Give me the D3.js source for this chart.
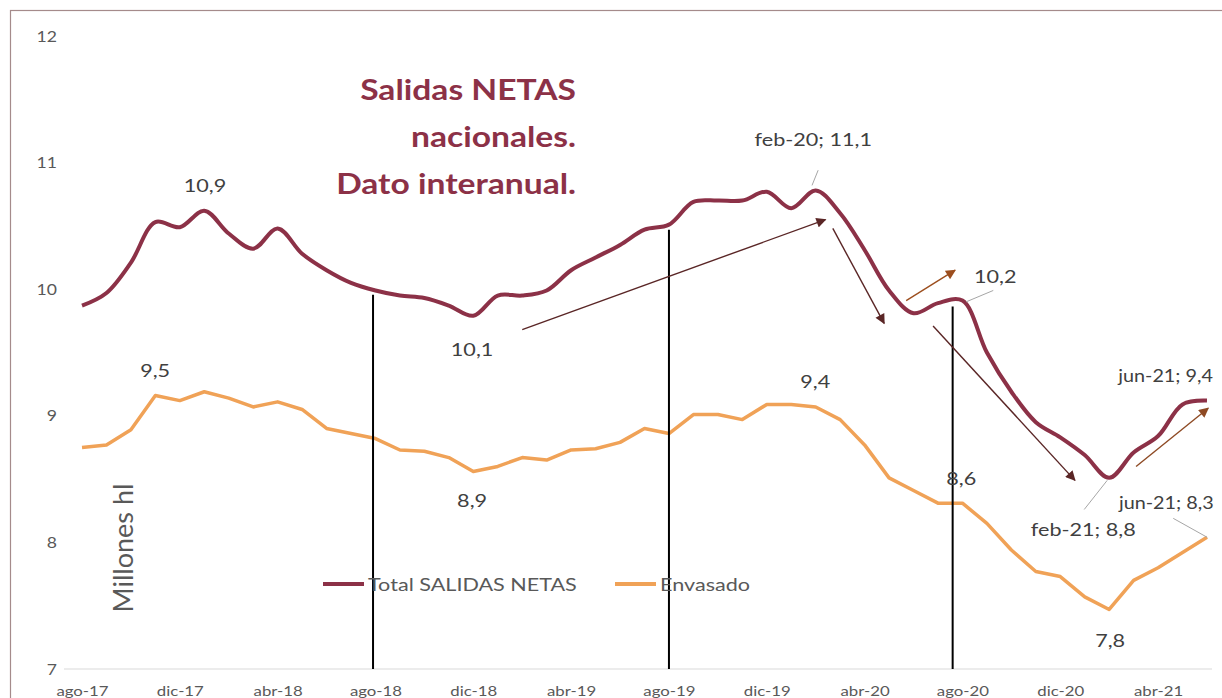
<!DOCTYPE html>
<html>
<head>
<meta charset="utf-8">
<script src="https://cdn.jsdelivr.net/npm/d3@7"></script>
<style>
  body { margin: 0; background: #fff; }
  text { font-family: Lato, "Open Sans", sans-serif; }
</style>
</head>
<body>
<div id="container"></div>
<script>
// months, ago-17 .. jun-21
const months = [
  "ago-17","sep-17","oct-17","nov-17","dic-17",
  "ene-18","feb-18","mar-18","abr-18","may-18","jun-18","jul-18","ago-18","sep-18","oct-18","nov-18","dic-18",
  "ene-19","feb-19","mar-19","abr-19","may-19","jun-19","jul-19","ago-19","sep-19","oct-19","nov-19","dic-19",
  "ene-20","feb-20","mar-20","abr-20","may-20","jun-20","jul-20","ago-20","sep-20","oct-20","nov-20","dic-20",
  "ene-21","feb-21","mar-21","abr-21","may-21","jun-21"
];

// Total SALIDAS NETAS (millones hl)
const total = [
  9.87, 9.97, 10.21, 10.53, 10.49,
  10.62, 10.44, 10.32, 10.48, 10.28, 10.15, 10.05, 9.99, 9.95, 9.93, 9.87, 9.79,
  9.95, 9.95, 9.99, 10.15, 10.25, 10.35, 10.47, 10.51, 10.69, 10.70, 10.70, 10.77,
  10.64, 10.78, 10.60, 10.31, 9.99, 9.81, 9.89, 9.91, 9.50, 9.19, 8.95, 8.83,
  8.69, 8.51, 8.71, 8.84, 9.09, 9.12
];

// Envasado
const envasado = [
  8.75, 8.77, 8.89, 9.16, 9.12,
  9.19, 9.14, 9.07, 9.11, 9.05, 8.90, 8.86, 8.82, 8.73, 8.72, 8.67, 8.56,
  8.60, 8.67, 8.65, 8.73, 8.74, 8.79, 8.90, 8.86, 9.01, 9.01, 8.97, 9.09,
  9.09, 9.07, 8.97, 8.77, 8.51, 8.41, 8.31, 8.31, 8.15, 7.94, 7.77, 7.73,
  7.57, 7.47, 7.70, 7.80, 7.92, 8.04
];

const yTicks = [7, 8, 9, 10, 11, 12];
const xTickLabels = ["ago-17","dic-17","abr-18","ago-18","dic-18","abr-19","ago-19","dic-19","abr-20","ago-20","dic-20","abr-21"];

// vertical drop lines (month index)
const dropAt = [11.9, 24, 35.6];

// data labels: [month index, value, text, anchor]
const labels = [
  [5.03, 10.77, "10,9", "middle"],
  [2.99, 9.31, "9,5", "middle"],
  [15.95, 9.47, "10,1", "middle"],
  [15.95, 8.28, "8,9", "middle"],
  [29.9, 11.13, "feb-20; 11,1", "middle"],
  [29.98, 9.22, "9,4", "middle"],
  [37.34, 10.05, "10,2", "middle"],
  [35.95, 8.45, "8,6", "middle"],
  [42.37, 9.27, "jun-21; 9,4", "start"],
  [40.94, 8.05, "feb-21; 8,8", "middle"],
  [42.4, 8.26, "jun-21; 8,3", "start"],
  [42.04, 7.17, "7,8", "middle"]
];

// leader lines: [i1, v1, i2, v2]
const leaders = [
  [30.1, 10.94, 29.85, 10.82],
  [36.15, 9.90, 37.26, 9.99],
  [41.92, 8.49, 40.98, 8.26],
  [44.62, 8.19, 46.01, 8.04]
];

// trend arrows: [i1, v1, i2, v2, colour]
const arrows = [
  [18.0, 9.68, 30.4, 10.55, "#5a2626"],
  [30.7, 10.48, 32.8, 9.73, "#5a2626"],
  [33.7, 9.91, 35.7, 10.15, "#9c4e1e"],
  [34.8, 9.71, 40.6, 8.49, "#5a2626"],
  [43.1, 8.60, 46.05, 9.06, "#8e4a24"]
];

const w = 1222;
const h = 698;
const maroon = "#8c3147";
const orange = "#f0a257";
const stretch = 1.2; // the original text looks horizontally widened

let viz = d3.select("#container")
  .append("svg")
    .attr("width", w)
    .attr("height", h);

// chart frame
viz.append("rect")
  .attr("x", 10.5).attr("y", 10.5)
  .attr("width", 1260).attr("height", 760)
  .attr("fill", "#fff")
  .attr("stroke", "#a58b8b")
  .attr("stroke-width", 1.2);

let xScale = d3.scalePoint().domain(months).range([82, 1207]);
let yScale = d3.scaleLinear().domain([7, 12]).range([669, 36]);

function xi(i){
  return xScale(months[0]) + i * xScale.step();
}

function wideText(sel, x, y, sx){
  return sel.append("text")
    .attr("transform", "translate(" + x + "," + y + ") scale(" + (sx || stretch) + ",1)");
}

// markers for arrows
let defs = viz.append("defs");
arrows.forEach(function(a, k){
  defs.append("marker")
    .attr("id", "ah" + k)
    .attr("viewBox", "0 0 10 10")
    .attr("refX", 9).attr("refY", 5)
    .attr("markerWidth", 11).attr("markerHeight", 10)
    .attr("markerUnits", "userSpaceOnUse")
    .attr("orient", "auto")
    .append("path")
      .attr("d", "M0,0 L10,5 L0,10 z")
      .attr("fill", a[4]);
});

// bottom axis line
viz.append("line")
  .attr("x1", 64).attr("x2", 1212)
  .attr("y1", yScale(7)).attr("y2", yScale(7))
  .attr("stroke", "#d9d9d9").attr("stroke-width", 1);

// y axis
let yAxis = viz.append("g")
  .attr("transform", "translate(57,0)")
  .call(d3.axisLeft(yScale).tickValues(yTicks).tickSize(0).tickPadding(0).tickFormat(d3.format("d")));
yAxis.select(".domain").remove();
yAxis.selectAll("text")
  .attr("fill", "#595959")
  .attr("transform", "scale(1.1,1)")
  .style("font-size", "16px")
  .style("font-family", "Lato, sans-serif");

// x axis
let xAxis = viz.append("g")
  .attr("transform", "translate(0," + yScale(7) + ")")
  .call(d3.axisBottom(xScale).tickValues(xTickLabels).tickSize(0).tickPadding(17));
xAxis.select(".domain").remove();
xAxis.selectAll("text")
  .attr("fill", "#595959")
  .attr("transform", "scale(" + stretch + ",1)")
  .style("font-size", "14px")
  .style("font-family", "Lato, sans-serif");

// axis title
viz.append("text")
  .attr("transform", "translate(133,548) rotate(-90)")
  .attr("text-anchor", "middle")
  .attr("fill", "#595959")
  .style("font-size", "27px")
  .text("Millones hl");

// lines
let lineTotal = d3.line()
  .x(function(d, i){ return xScale(months[i]); })
  .y(function(d){ return yScale(d); })
  .curve(d3.curveCatmullRom.alpha(0.5));

let lineEnv = d3.line()
  .x(function(d, i){ return xScale(months[i]); })
  .y(function(d){ return yScale(d); });

viz.append("path")
  .datum(envasado)
  .attr("d", lineEnv)
  .attr("fill", "none")
  .attr("stroke", orange)
  .attr("stroke-width", 3.5)
  .attr("stroke-linejoin", "round");

viz.append("path")
  .datum(total)
  .attr("d", lineTotal)
  .attr("fill", "none")
  .attr("stroke", maroon)
  .attr("stroke-width", 4)
  .attr("stroke-linejoin", "round");

// drop lines from total series down to axis
function totalAt(i){
  let a = Math.floor(i), b = Math.min(a + 1, total.length - 1);
  return total[a] + (total[b] - total[a]) * (i - a);
}
viz.selectAll(".drop").data(dropAt).enter()
  .append("line")
    .attr("x1", xi).attr("x2", xi)
    .attr("y1", function(d){ return yScale(totalAt(d)) + 5; })
    .attr("y2", yScale(7))
    .attr("stroke", "#000")
    .attr("stroke-width", 2);

// arrows
viz.selectAll(".arrow").data(arrows).enter()
  .append("line")
    .attr("x1", function(d){ return xi(d[0]); })
    .attr("y1", function(d){ return yScale(d[1]); })
    .attr("x2", function(d){ return xi(d[2]); })
    .attr("y2", function(d){ return yScale(d[3]); })
    .attr("stroke", function(d){ return d[4]; })
    .attr("stroke-width", 1.4)
    .attr("marker-end", function(d, k){ return "url(#ah" + k + ")"; });

// leader lines
viz.selectAll(".leader").data(leaders).enter()
  .append("line")
    .attr("x1", function(d){ return xi(d[0]); })
    .attr("y1", function(d){ return yScale(d[1]); })
    .attr("x2", function(d){ return xi(d[2]); })
    .attr("y2", function(d){ return yScale(d[3]); })
    .attr("stroke", "#a6a6a6")
    .attr("stroke-width", 1);

// data labels (the ones at the right edge are kept a bit narrower so they fit)
labels.forEach(function(d){
  wideText(viz, xi(d[0]), yScale(d[1]), d[3] === "start" ? 1.1 : stretch)
    .attr("text-anchor", d[3])
    .attr("fill", "#404040")
    .style("font-size", "18px")
    .text(d[2]);
});

// title
["Salidas NETAS", "nacionales.", "Dato interanual."].forEach(function(t, k){
  wideText(viz, 576, 100 + k * 47)
    .attr("text-anchor", "end")
    .attr("fill", "#8c3147")
    .style("font-size", "28px")
    .style("font-weight", "bold")
    .text(t);
});

// legend
const legendItems = [["Total SALIDAS NETAS", maroon, 323], ["Envasado", orange, 615]];
legendItems.forEach(function(it){
  viz.append("line")
    .attr("x1", it[2]).attr("x2", it[2] + 41)
    .attr("y1", 584).attr("y2", 584)
    .attr("stroke", it[1]).attr("stroke-width", 4);
  wideText(viz, it[2] + 45, 591)
    .attr("fill", "#595959")
    .style("font-size", "18px")
    .text(it[0]);
});
</script>
</body>
</html>
